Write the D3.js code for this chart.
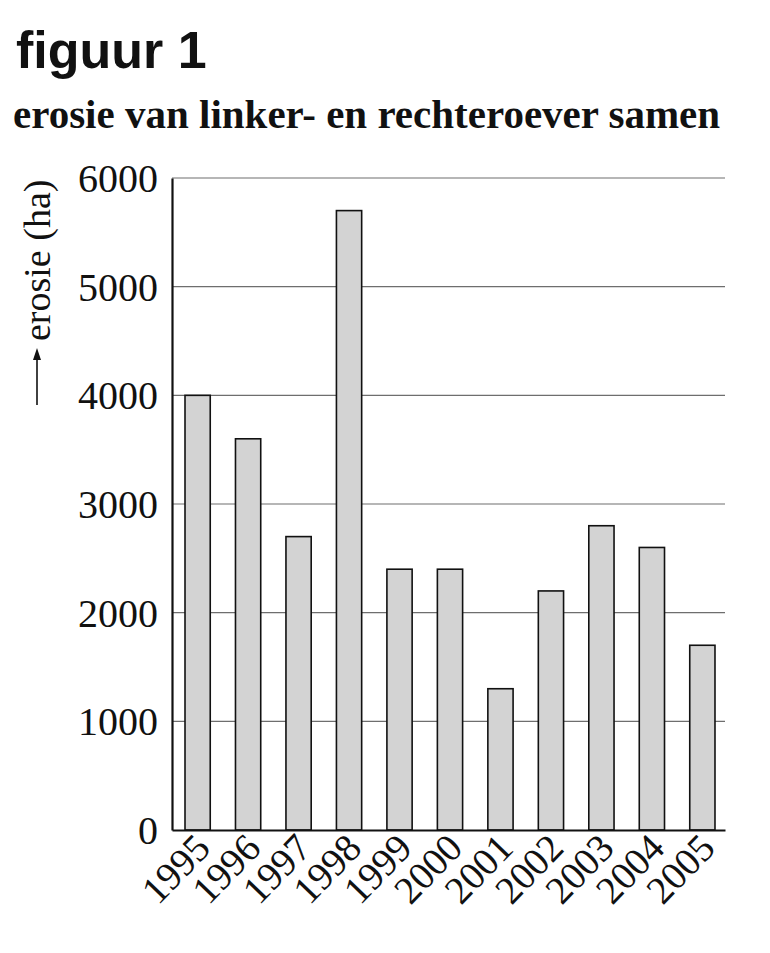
<!DOCTYPE html>
<meta charset="utf-8">
<title>figuur 1</title>
<style>
  body { margin: 0; background: #fff; }
  svg text { fill: #111; }
</style>
<svg width="770" height="953"></svg>
<script src="https://d3js.org/d3.v7.min.js"></script>
<script>

// data
var years = ["1995", "1996", "1997", "1998", "1999", "2000", "2001", "2002", "2003", "2004", "2005"];
var erosie = [4000, 3600, 2700, 5700, 2400, 2400, 1300, 2200, 2800, 2600, 1700];
var yTicks = [0, 1000, 2000, 3000, 4000, 5000, 6000];

var svg = d3.select("svg");
var serif = "'Liberation Serif', 'Times New Roman', serif";

var x = d3.scaleBand()
    .domain(years)
    .range([172, 725])
    .paddingInner(0.5)
    .paddingOuter(0.228)
    .align(0.565);

var y = d3.scaleLinear()
    .domain([0, 6000])
    .range([830, 178]);

// titles
svg.append("text")
    .attr("x", 16)
    .attr("y", 68)
    .style("font-family", "'Liberation Sans', Arial, sans-serif")
    .style("font-weight", "bold")
    .style("font-size", "52px")
    .text("figuur 1");

svg.append("text")
    .attr("x", 13)
    .attr("y", 128)
    .style("font-family", serif)
    .style("font-weight", "bold")
    .style("font-size", "41px")
    .text("erosie van linker- en rechteroever samen");

// grid lines
svg.append("g")
    .selectAll("line")
    .data(yTicks.filter(function(d) { return d > 0; }))
    .enter()
    .append("line")
    .attr("x1", 172)
    .attr("x2", 725)
    .attr("y1", function(d) { return y(d); })
    .attr("y2", function(d) { return y(d); })
    .attr("stroke", "#6e6e6e")
    .attr("stroke-width", 1.2);

// bars
svg.append("g")
    .selectAll("rect")
    .data(years)
    .enter()
    .append("rect")
    .attr("x", function(d) { return x(d); })
    .attr("y", function(d, i) { return y(erosie[i]); })
    .attr("width", x.bandwidth())
    .attr("height", function(d, i) { return y(0) - y(erosie[i]); })
    .attr("fill", "#d3d3d3")
    .attr("stroke", "#111")
    .attr("stroke-width", 1.6);

// axes
var yAxis = svg.append("g")
    .attr("transform", "translate(172,0)")
    .call(d3.axisLeft(y).tickValues(yTicks).tickFormat(d3.format("d")).tickSize(0).tickPadding(14));
yAxis.select(".domain").attr("stroke", "#111").attr("stroke-width", 2.2);
yAxis.selectAll("text")
    .style("font-family", serif)
    .style("font-size", "40px")
    .attr("dy", "0.34em");

var xAxis = svg.append("g")
    .attr("transform", "translate(0,830)")
    .call(d3.axisBottom(x).tickSize(0).tickFormat(""));
xAxis.select(".domain").attr("stroke", "#111").attr("stroke-width", 2.2);

// rotated year labels
svg.append("g")
    .selectAll("text")
    .data(years)
    .enter()
    .append("text")
    .attr("transform", function(d) {
        return "translate(" + (x(d) + x.bandwidth() + 2) + ",850) rotate(-46)";
    })
    .attr("text-anchor", "end")
    .style("font-family", serif)
    .style("font-size", "39px")
    .text(function(d) { return d; });

// y axis label with arrow
svg.append("text")
    .attr("transform", "translate(50,341) rotate(-90)")
    .style("font-family", serif)
    .style("font-size", "38px")
    .text("erosie (ha)");

svg.append("line")
    .attr("x1", 37).attr("x2", 37)
    .attr("y1", 405).attr("y2", 356)
    .attr("stroke", "#111")
    .attr("stroke-width", 1.6);
svg.append("path")
    .attr("d", d3.line()([[37, 348], [33, 360], [41, 360]]) + "Z")
    .attr("fill", "#111");

</script>
